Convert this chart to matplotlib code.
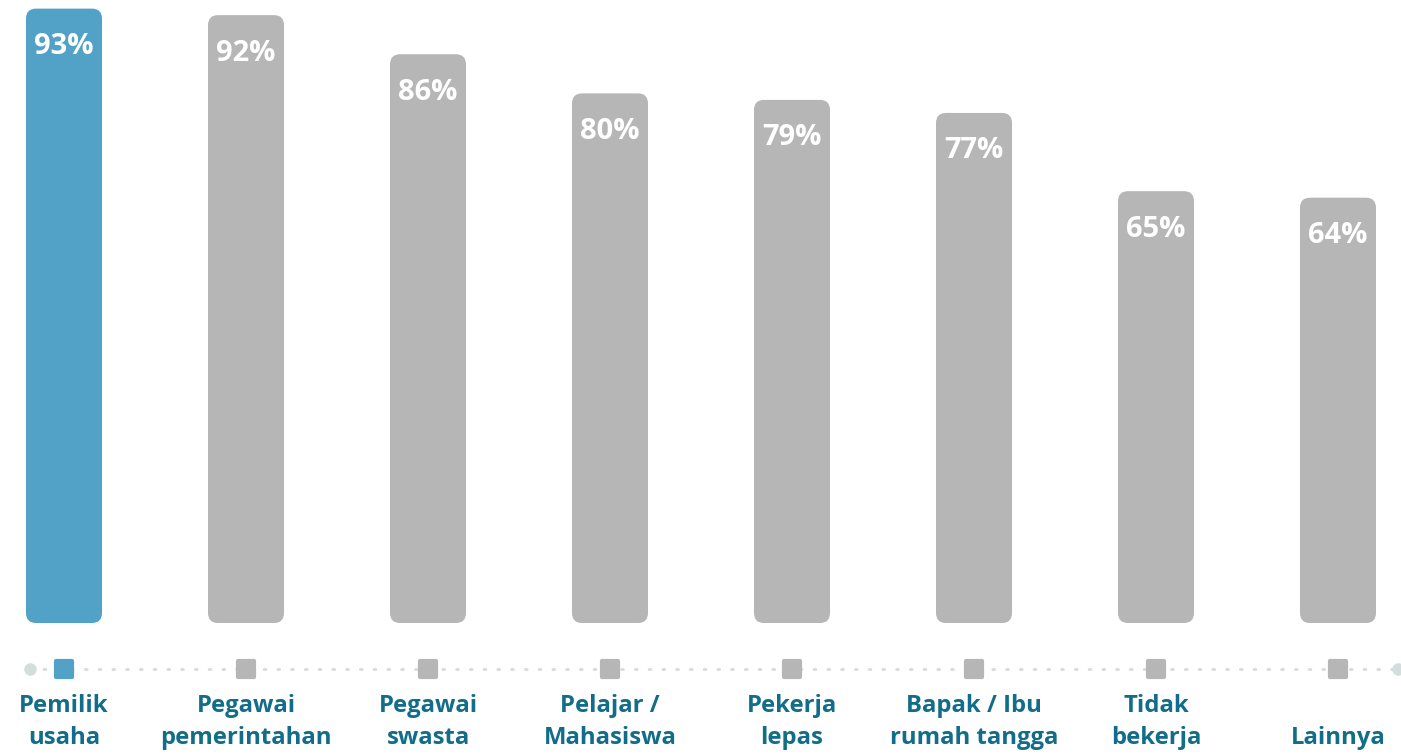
import matplotlib.pyplot as plt
from matplotlib.patches import FancyBboxPatch
from matplotlib.markers import MarkerStyle

categories = ['Pemilik\nusaha', 'Pegawai\npemerintahan', 'Pegawai\nswasta',
              'Pelajar /\nMahasiswa', 'Pekerja\nlepas', 'Bapak / Ibu\nrumah tangga',
              'Tidak\nbekerja', 'Lainnya']
values = [93, 92, 86, 80, 79, 77, 65, 64]
highlight = 0

blue = '#52a2c8'
grey = '#b6b6b6'
teal = '#116d89'
dot_grey = '#d9dddd'

plt.rcParams['font.family'] = ['Open Sans', 'DejaVu Sans']

fig = plt.figure(figsize=(14.01, 7.55), dpi=100)
ax = fig.add_axes([0, 0, 1, 1])

px_x = 182.0   # pixels per category step
px_y = 6.52    # pixels per percent
floor = -1.23  # bars start slightly below zero
base_px = 623
ax.set_xlim(-64 / px_x, (1401 - 64) / px_x)
ax.set_ylim(floor - (755 - base_px) / px_y, floor + base_px / px_y)
ax.axis('off')

bar_w = 76 / px_x
r = 10 / px_x

for i, v in enumerate(values):
    c = blue if i == highlight else grey
    p = FancyBboxPatch((i - bar_w / 2, floor), bar_w, v - floor,
                       boxstyle='round,pad=0,rounding_size=%f' % r,
                       mutation_aspect=px_x / px_y,
                       fc=c, ec='none')
    ax.add_patch(p)
    ax.annotate('%d%%' % v, (i, v), xytext=(0, -38), textcoords='offset pixels',
                ha='center', va='center', color='white', fontsize=21,
                fontweight='bold')

# dotted baseline with end circles
y_line = floor - 46 / px_y
x0 = (30 - 64) / px_x
x1 = (1398 - 64) / px_x
ax.plot([x0, x1], [y_line, y_line], color=dot_grey, lw=2.2,
        linestyle=(0, (0.5, 4)), dash_capstyle='round', zorder=1)
ax.plot([x0, x1], [y_line, y_line], 'o', color='#d3dedc', ms=8, zorder=2)

sq = MarkerStyle('s', joinstyle='round')
for i in range(len(values)):
    c = blue if i == highlight else grey
    ax.plot(i, y_line, marker=sq, ms=11, color=c, mec=c, mew=3, zorder=3)

# category labels, bottom aligned
for i, lab in enumerate(categories):
    lines = lab.split('\n')
    for j, line in enumerate(reversed(lines)):
        yb = floor - (744 - 32 * j - base_px) / px_y
        ax.text(i, yb, line, ha='center', va='baseline', color=teal,
                fontsize=17.2, fontweight='bold')

fig.savefig('out.png', dpi=100)
